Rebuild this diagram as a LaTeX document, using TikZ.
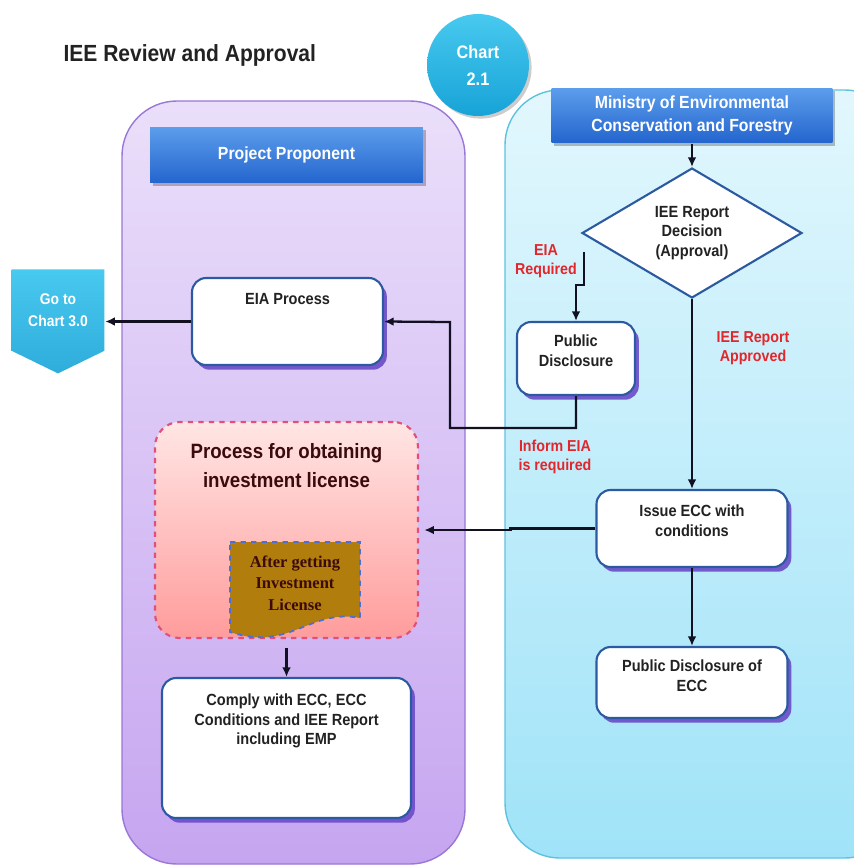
\documentclass[tikz,border=0pt]{standalone}
\usepackage{fontspec}
\setmainfont{Liberation Sans}[FakeStretch=0.9]
\newfontfamily\docfont{Liberation Serif}
\usetikzlibrary{positioning,shapes.geometric,shapes.symbols,shadows,arrows.meta}

\definecolor{violettop}{HTML}{EADFFA}
\definecolor{violetbottom}{HTML}{C6A5F0}
\definecolor{violetedge}{HTML}{9A76D6}
\definecolor{cyantop}{HTML}{E2F7FD}
\definecolor{cyanbottom}{HTML}{A0E3F8}
\definecolor{cyanedge}{HTML}{5EC2DF}
\definecolor{hdrtop}{HTML}{5C9DEC}
\definecolor{hdrbottom}{HTML}{2465CE}
\definecolor{boxblue}{HTML}{2C5AA0}
\definecolor{shadowviolet}{HTML}{6A4BC8}
\definecolor{redlbl}{HTML}{E3262B}
\definecolor{chartlight}{HTML}{48C9EF}
\definecolor{chartdark}{HTML}{17A3D7}
\definecolor{pinktop}{HTML}{FFE6E4}
\definecolor{pinkbottom}{HTML}{FF9C9C}
\definecolor{pinkedge}{HTML}{E0507A}
\definecolor{docbrown}{HTML}{B17D0C}
\definecolor{docedge}{HTML}{4A6FD8}
\definecolor{darkbrown}{HTML}{3B0B0B}
\definecolor{textgray}{HTML}{222222}
\definecolor{linkblack}{HTML}{111122}

\begin{document}
\begin{tikzpicture}[x=0.02cm, y=-0.02cm, thick, >={Latex[length=5.5pt,width=5pt]},
    boxtext/.style={font=\fontsize{9.2}{11.3}\selectfont\bfseries, text=textgray, align=center, inner sep=0pt},
    procbox/.style={draw=boxblue, line width=1.2pt, fill=white, rounded corners=8pt, align=center,
        font=\fontsize{9.2}{11.3}\selectfont\bfseries, text=textgray,
        drop shadow={shadow xshift=2.2pt, shadow yshift=-2.7pt, fill=shadowviolet, opacity=0.9}},
    header/.style={top color=hdrtop, bottom color=hdrbottom, text=white, align=center,
        font=\fontsize{10}{13}\selectfont\bfseries,
        drop shadow={shadow xshift=1.5pt, shadow yshift=-1.5pt, fill=black, opacity=0.25}},
    redlabel/.style={font=\fontsize{9}{10.8}\selectfont\bfseries, text=redlbl, align=center, inner sep=0pt},
    decision/.style={diamond, draw=boxblue, line width=1.2pt, fill=white, inner sep=0pt,
        minimum width=4.4cm, minimum height=2.6cm, align=center,
        font=\fontsize{9.2}{11.3}\selectfont\bfseries, text=textgray},
    licbox/.style={draw=pinkedge, dashed, line width=1.2pt, top color=pinktop, bottom color=pinkbottom,
        rounded corners=14pt},
    link/.style={->, draw=linkblack, line width=1.3pt},
    lane/.style={rounded corners=1.1cm, line width=0.8pt}]

\useasboundingbox (0,0) rectangle (854,866);
\clip (0,0) rectangle (854,866);

% lanes
\draw[lane, draw=violetedge, top color=violettop, bottom color=violetbottom] (122,101) rectangle (465,864);
\draw[lane, draw=cyanedge, top color=cyantop, bottom color=cyanbottom] (505,90) rectangle (900,858);

\node[anchor=west, font=\fontsize{13.3}{16}\selectfont\bfseries, text=textgray] (title) at (57,55) {IEE Review and Approval};
\node[circle, minimum size=2.04cm, inner sep=0pt, top color=chartlight, bottom color=chartdark,
    text=white, align=center, font=\fontsize{10.3}{15.3}\selectfont\bfseries,
    drop shadow={shadow xshift=1.5pt, shadow yshift=-1.5pt, fill=black, opacity=0.2}] (chart) at (478,65) {Chart\\2.1};

% lane headers
\node[header, minimum width=5.46cm, minimum height=1.12cm] (proponent) at (286.5,155) {Project Proponent};
\node[header, minimum width=5.62cm, minimum height=1.1cm] (ministry) at (692,115.5) {Ministry of Environmental\\Conservation and Forestry};

% ministry side
\node[decision] (decision) at (692,233) {IEE Report\\Decision\\(Approval)};
\node[procbox, minimum width=2.36cm, minimum height=1.46cm] (pubdis) at (576,358.5) {};
\node[boxtext] (pubdistext) at ([yshift=-0.6cm]pubdis.north) {Public\\Disclosure};
\node[procbox, minimum width=3.82cm, minimum height=1.54cm] (issue) at (692,528.5) {};
\node[boxtext] (issuetext) at ([yshift=-0.64cm]issue.north) {Issue ECC with\\conditions};
\node[procbox, minimum width=3.82cm, minimum height=1.42cm] (eccpub) at (692,682.5) {};
\node[boxtext] (eccpubtext) at ([yshift=-0.6cm]eccpub.north) {Public Disclosure of\\ECC};

\node[redlabel] (eiareq) at (546,261) {EIA\\Required};
\node[redlabel] (approved) at (753,348.5) {IEE Report\\Approved};
\node[redlabel] (inform) at (555,457) {Inform EIA\\is required};

% proponent side
\node[procbox, minimum width=3.82cm, minimum height=1.74cm] (eia) at (287.5,321.5) {};
\node[boxtext] (eiatext) at ([yshift=-0.44cm]eia.north) {EIA Process};

\node[licbox, minimum width=5.26cm, minimum height=4.32cm] (licence) at (286.5,530) {};
\node[font=\fontsize{11.8}{16.4}\selectfont\bfseries, text=darkbrown, align=center, inner sep=0pt] (lictext)
    at ([yshift=-0.9cm]licence.north) {Process for obtaining\\investment license};

\draw[fill=docbrown, draw=docedge, dashed, line width=1pt] (230,542) -- (360,542) -- (360,618)
    .. controls (310,608) and (290,652) .. (230,632) -- cycle;
\node[font=\docfont\fontsize{9.4}{12.2}\selectfont\bfseries, text=darkbrown, align=center, inner sep=0pt] (doctext)
    at (295,583) {After getting\\Investment\\License};

\node[procbox, minimum width=4.98cm, minimum height=2.8cm] (comply) at (286.5,748) {};
\node[boxtext] (complytext) at ([yshift=-0.88cm]comply.north) {Comply with ECC, ECC\\Conditions and IEE Report\\including EMP};

\node[signal, signal to=south, signal from=nowhere, signal pointer angle=128, top color=chartlight, bottom color=chartdark!90,
    minimum width=1.86cm, minimum height=1.92cm, inner sep=0pt, text=white, align=center,
    font=\fontsize{8.8}{12.5}\selectfont\bfseries] (goto) at (58,310) {Go to\\Chart 3.0};

% connectors
\coordinate (eiafork) at (584,252);
\coordinate (backbend) at (450,322);
\draw[link] (ministry) -- (decision);
\draw[link] (eiafork) -- ++(0,33) -| (pubdis);
\draw[link] (pubdis.south) -- ++(0,32) -| (backbend) -- (eia.east);
\draw[link] (eia.west) -- (eia.west -| goto.east);
\draw[link] (decision) -- (issue);
\draw[link, shorten >=3pt] (issue.west) -- ++(-85,0) |- (licence.east);
\draw[link] (issue) -- (eccpub);
\draw[link, shorten <=5pt] (licence) -- (comply);
\end{tikzpicture}
\end{document}
